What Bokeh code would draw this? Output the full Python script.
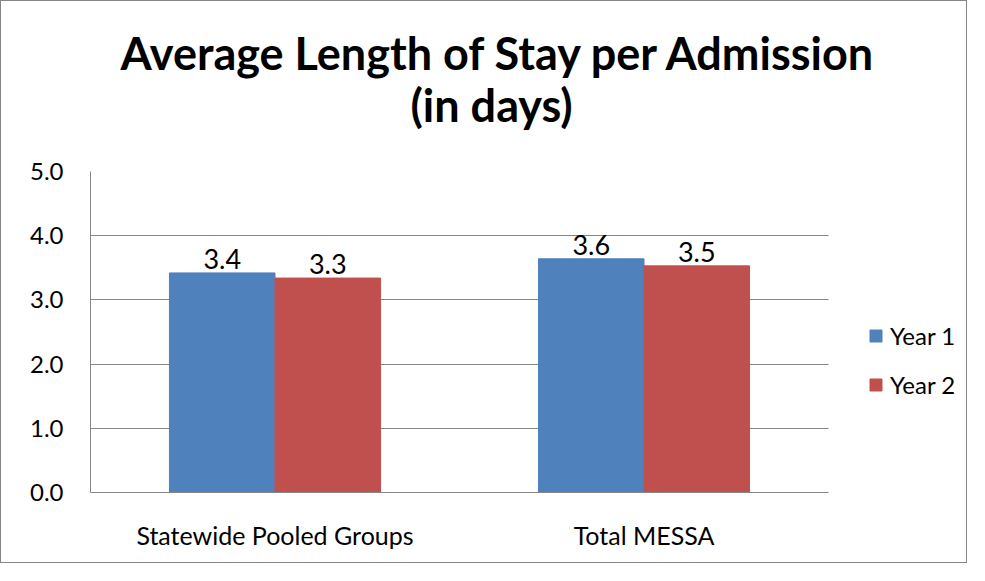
from bokeh.plotting import figure
from bokeh.models import (ColumnDataSource, LabelSet, Legend, LegendItem, Title,
                          Range1d, FixedTicker, NumeralTickFormatter)
from bokeh.core.properties import value
from bokeh.embed import file_html
from bokeh.resources import INLINE

categories = ["Statewide Pooled Groups", "Total MESSA"]
year1 = [3.42, 3.64]
year2 = [3.34, 3.53]
series_names = ["Year 1", "Year 2"]
y_ticks = [0, 1, 2, 3, 4, 5]
title_lines = ["Average Length of Stay per Admission", "(in days)"]

FONT = "Lato"
BLUE = "#4F81BD"
RED = "#C0504D"
GRAY = "#868686"

n = len(categories)
centers = [i + 0.5 for i in range(n)]
bw = 0.286

src = ColumnDataSource(dict(
    xc=centers,
    x1=[c - bw / 2 for c in centers], x2=[c + bw / 2 for c in centers],
    y1=year1, y2=year2,
    l1=[f"{v:.1f}" for v in year1], l2=[f"{v:.1f}" for v in year2],
))

W, H = 967, 563
ML, MR, MT, MB = 89, 5, 170, 72
frame_w = W - ML - MR
cat_px = 369  # pixel width of one category slot
x_end = n + (frame_w - n * cat_px) / cat_px

p = figure(x_range=Range1d(0, x_end), y_range=Range1d(0, 5),
           width=W, height=H, output_backend="svg", toolbar_location=None,
           min_border_left=ML, min_border_right=MR, min_border_top=MT, min_border_bottom=MB)
p.styles = {"border": f"1px solid {GRAY}"}
p.outline_line_color = None
p.background_fill_color = "white"

r1 = p.vbar(x="x1", top="y1", width=bw, source=src, fill_color=BLUE, line_color=BLUE)
r2 = p.vbar(x="x2", top="y2", width=bw, source=src, fill_color=RED, line_color=RED)

for xcol, col, lab in (("x1", "y1", "l1"), ("x2", "y2", "l2")):
    p.add_layout(LabelSet(x=xcol, y=col, text=lab, source=src,
                          text_align="center", text_baseline="alphabetic", y_offset=4,
                          text_font=value(FONT), text_font_size=value("27px"),
                          text_color=value("black")))

p.add_layout(Title(text=title_lines[1], align="left", offset=320, standoff=80, text_font=FONT,
                   text_font_size="45px", text_font_style="bold", text_color="black"), "above")
p.add_layout(Title(text=title_lines[0], align="left", offset=30, standoff=-88,
                   text_font=FONT, text_font_size="45px", text_font_style="bold",
                   text_color="black"), "above")

p.yaxis.ticker = FixedTicker(ticks=y_ticks)
p.yaxis.formatter = NumeralTickFormatter(format="0.0")
p.yaxis.major_tick_line_color = None
p.yaxis.minor_tick_line_color = None
p.yaxis.major_tick_out = 0
p.yaxis.axis_line_color = GRAY
p.yaxis.major_label_standoff = 27
p.yaxis.major_label_text_font = FONT
p.yaxis.major_label_text_font_size = "24px"
p.yaxis.major_label_text_color = "black"

p.xaxis.ticker = FixedTicker(ticks=centers)
p.xaxis.major_label_overrides = {c: name for c, name in zip(centers, categories)}
p.xaxis.bounds = (0, n)
p.xaxis.major_tick_line_color = None
p.xaxis.minor_tick_line_color = None
p.xaxis.major_tick_out = 0
p.xaxis.axis_line_color = GRAY
p.xaxis.major_label_standoff = 27
p.xaxis.major_label_text_font = FONT
p.xaxis.major_label_text_font_size = "25px"
p.xaxis.major_label_text_color = "black"

p.xgrid.grid_line_color = None
p.ygrid.grid_line_color = GRAY
p.ygrid.ticker = FixedTicker(ticks=y_ticks)
p.ygrid.cross_bounds = (0, n)

legend = Legend(items=[LegendItem(label=series_names[0], renderers=[r1]),
                       LegendItem(label=series_names[1], renderers=[r2])],
                location=(778, 93), glyph_width=15, glyph_height=15, label_standoff=7,
                label_text_font=FONT, label_text_font_size="24px", label_text_color="black",
                spacing=20, border_line_color=None, background_fill_alpha=0, margin=0, padding=0)
p.add_layout(legend, "center")

open("out.html", "w").write(file_html(p, INLINE))
